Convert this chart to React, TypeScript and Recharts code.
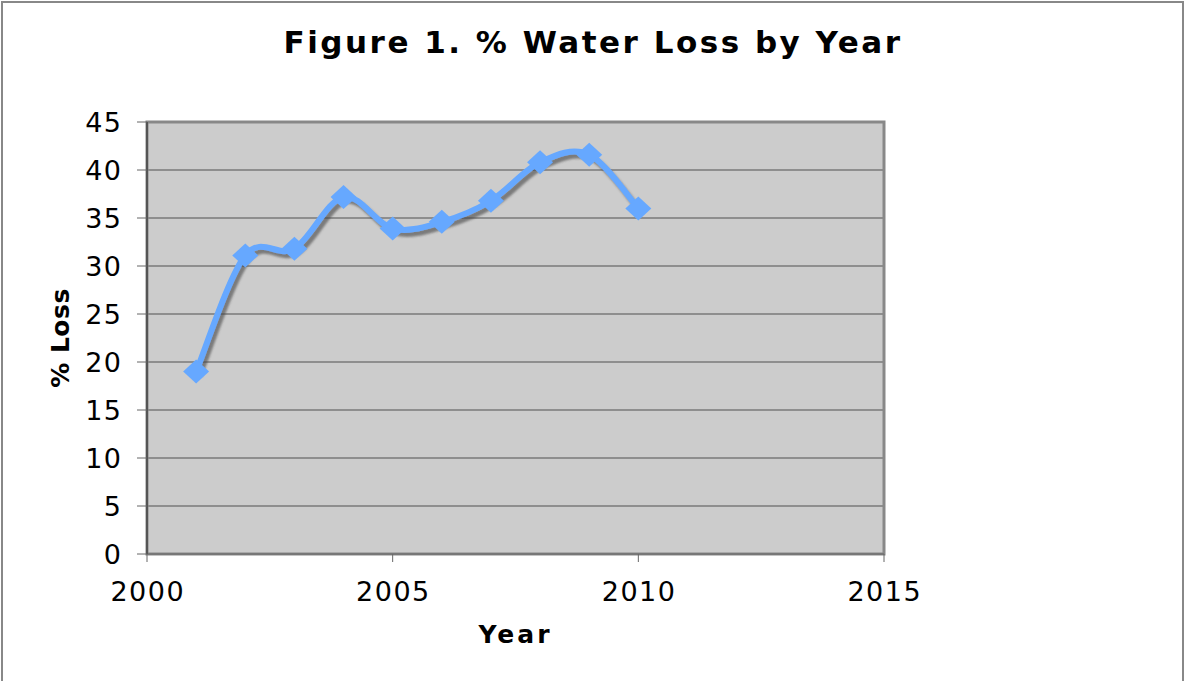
import React from 'react';
import { LineChart, Line, XAxis, YAxis, CartesianGrid, ReferenceArea, Label } from 'recharts';

const years = [2001, 2002, 2003, 2004, 2005, 2006, 2007, 2008, 2009, 2010];
const lossPct = [19.0, 31.1, 31.8, 37.2, 33.9, 34.6, 36.8, 40.8, 41.6, 36.0];
const xTicks = [2000, 2005, 2010, 2015];
const yTicks = [0, 5, 10, 15, 20, 25, 30, 35, 40, 45];

const data = years.map((y, i) => ({ year: y, loss: lossPct[i] }));

const FONT = '"DejaVu Sans", Verdana, sans-serif';
const BLUE = '#66a8ff';

// Catmull-Rom style smoothing (similar to spreadsheet "smoothed line")
const smoothCurve: any = (context: any) => {
  let pts: number[][] = [];
  return {
    areaStart() {},
    areaEnd() {},
    lineStart() { pts = []; },
    point(x: number, y: number) { pts.push([+x, +y]); },
    lineEnd() {
      const n = pts.length;
      if (!n) return;
      context.moveTo(pts[0][0], pts[0][1]);
      for (let i = 0; i < n - 1; i++) {
        const p0 = pts[Math.max(i - 1, 0)];
        const p1 = pts[i];
        const p2 = pts[i + 1];
        const p3 = pts[Math.min(i + 2, n - 1)];
        const c1x = p1[0] + (p2[0] - p0[0]) / 6;
        const c1y = p1[1] + (p2[1] - p0[1]) / 6;
        const c2x = p2[0] - (p3[0] - p1[0]) / 6;
        const c2y = p2[1] - (p3[1] - p1[1]) / 6;
        context.bezierCurveTo(c1x, c1y, c2x, c2y, p2[0], p2[1]);
      }
    },
  };
};

const Diamond = (props: any) => {
  const { cx, cy } = props;
  if (cx == null || cy == null) return null;
  const w = 13, h = 12;
  return (
    <polygon
      points={`${cx},${cy - h} ${cx + w},${cy} ${cx},${cy + h} ${cx - w},${cy}`}
      fill={BLUE}
      stroke="none"
    />
  );
};

const XTick = (props: any) => {
  const { x, y, payload } = props;
  return (
    <text x={x + 0.75} y={y} dy="0.71em" textAnchor="middle" fontFamily={FONT} fontSize={27}
      letterSpacing={1.5} fill="#000">{payload.value}</text>
  );
};

const YTick = (props: any) => {
  const { x, y, payload } = props;
  return (
    <text x={x + 1.5} y={y} dy="0.355em" textAnchor="end" fontFamily={FONT} fontSize={27}
      letterSpacing={1.5} fill="#000">{payload.value}</text>
  );
};

const YTitle = (props: any) => {
  const vb = props.viewBox || {};
  const x = 60;
  const y = vb.y + vb.height / 2;
  return (
    <text x={x} y={y} transform={`rotate(-90 ${x} ${y})`} textAnchor="middle" dominantBaseline="central"
      fontFamily={FONT} fontWeight="bold" fontSize={25} letterSpacing={0.5} fill="#000">% Loss</text>
  );
};

const XTitle = (props: any) => {
  const vb = props.viewBox || {};
  const x = vb.x + vb.width / 2;
  return (
    <text x={x} y={634} textAnchor="middle" dominantBaseline="central"
      fontFamily={FONT} fontWeight="bold" fontSize={25} letterSpacing={3} fill="#000">Year</text>
  );
};

export default function App() {
  return (
    <div style={{ position: 'absolute', left: 0, top: 0, width: 1186, height: 681, overflow: 'hidden', background: '#fff' }}>
      <svg width="0" height="0" style={{ position: 'absolute' }}>
        <defs>
          <filter id="lineShadow" x="-10%" y="-10%" width="130%" height="130%">
            <feDropShadow dx="3" dy="4" stdDeviation="1.2" floodColor="#444" floodOpacity="0.6" />
          </filter>
        </defs>
      </svg>
      <style>{`.main-line { filter: url(#lineShadow); }`}</style>
      <div style={{ position: 'absolute', left: 1, top: 1, width: 1183, height: 720, border: '2px solid #888', boxSizing: 'border-box' }} />
      <div style={{ position: 'absolute', left: 0, top: 20, width: 1186, textAlign: 'center', fontFamily: FONT, fontWeight: 'bold', fontSize: 31, letterSpacing: '2.5px', color: '#000', lineHeight: '44px' }}>
        Figure 1. % Water Loss by Year
      </div>
      <div style={{ position: 'absolute', left: 0, top: 0 }}>
        <LineChart width={1186} height={681} data={data} margin={{ top: 122, right: 302, bottom: 67, left: 0 }}>
          <CartesianGrid vertical={false} fill="#cccccc" stroke="#7a7a7a" strokeWidth={1.5} />
          <ReferenceArea x1={2000} x2={2015} y1={0} y2={45} fill="none" stroke="#888" strokeWidth={3} ifOverflow="visible" />
          <XAxis
            dataKey="year"
            type="number"
            domain={[2000, 2015]}
            ticks={xTicks}
            height={60}
            tickSize={8}
            tickMargin={20}
            axisLine={{ stroke: '#777', strokeWidth: 2 }}
            tickLine={{ stroke: '#666' }}
            tick={<XTick />}
            interval={0}
          >
            <Label content={<XTitle />} />
          </XAxis>
          <YAxis
            type="number"
            domain={[0, 45]}
            ticks={yTicks}
            width={147}
            tickSize={10}
            tickMargin={16}
            axisLine={{ stroke: '#555', strokeWidth: 2 }}
            tickLine={{ stroke: '#666' }}
            tick={<YTick />}
            interval={0}
          >
            <Label content={<YTitle />} />
          </YAxis>
          <Line
            className="main-line"
            dataKey="loss"
            type={smoothCurve}
            stroke={BLUE}
            strokeWidth={6}
            dot={<Diamond />}
            activeDot={false}
            isAnimationActive={false}
          />
        </LineChart>
      </div>
    </div>
  );
}
